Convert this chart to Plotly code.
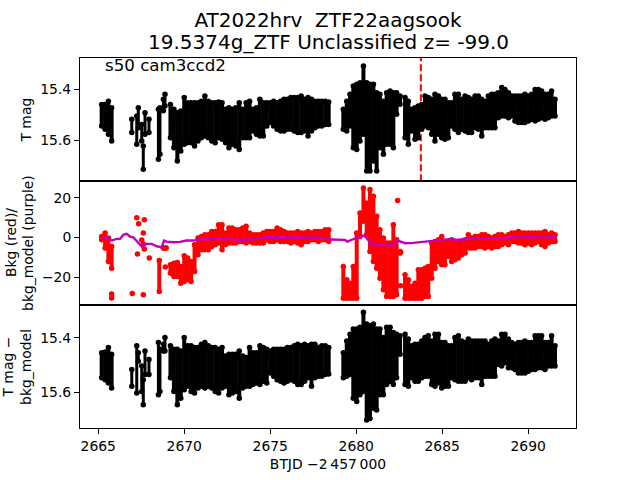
import plotly.graph_objects as go
from plotly.subplots import make_subplots

# Valores (envolvente superior/inferior de cada columna de puntos)
t_inicio = [2665.20, 2665.40, 2665.59, 2665.78]
t_tramo1 = [2669.2, 2669.4, 2669.6, 2669.8, 2670.0, 2670.2, 2670.4, 2670.6, 2670.8, 2671.0,
            2671.2, 2671.4, 2671.6, 2671.8, 2672.0, 2672.2, 2672.4, 2672.6, 2672.8, 2673.0,
            2673.2, 2673.4, 2673.6, 2673.8, 2674.0, 2674.2, 2674.4, 2674.6, 2674.8, 2675.0,
            2675.2, 2675.4, 2675.6, 2675.8, 2676.0, 2676.2, 2676.4, 2676.6, 2676.8, 2677.0,
            2677.2, 2677.4, 2677.6, 2677.8, 2678.0, 2678.2, 2678.4]
t_tramo2 = [2679.25, 2679.45, 2679.64, 2679.83, 2680.03, 2680.22, 2680.42, 2680.61, 2680.80, 2681.00,
            2681.19, 2681.38, 2681.58, 2681.77, 2681.97, 2682.16, 2682.35, 2682.55, 2682.84, 2683.03,
            2683.22, 2683.42, 2683.61, 2683.81, 2684.00, 2684.19, 2684.39, 2684.58, 2684.78, 2684.97,
            2685.16, 2685.36, 2685.55, 2685.74, 2685.94, 2686.13, 2686.33, 2686.52, 2686.71, 2686.91,
            2687.10, 2687.30, 2687.49, 2687.68, 2687.88, 2688.07, 2688.26, 2688.46, 2688.65, 2688.85,
            2689.04, 2689.23, 2689.43, 2689.62, 2689.81, 2690.01, 2690.20, 2690.40, 2690.59, 2690.78,
            2690.98, 2691.17, 2691.36, 2691.56]
t_sueltos = [2666.95, 2667.24, 2667.33, 2667.53, 2667.62, 2667.72, 2667.95, 2668.50, 2668.59, 2668.79, 2668.88]

# Panel superior: T mag
mag_sup_ini = [15.460, 15.460, 15.447, 15.473]
mag_inf_ini = [15.544, 15.557, 15.577, 15.603]
mag_sup_1 = [15.460, 15.479, 15.492, 15.486, 15.433, 15.453, 15.453, 15.453, 15.453, 15.447,
             15.427, 15.447, 15.453, 15.453, 15.450, 15.453, 15.479, 15.473, 15.479, 15.473,
             15.453, 15.479, 15.453, 15.447, 15.479, 15.473, 15.440, 15.453, 15.453, 15.453,
             15.447, 15.453, 15.447, 15.440, 15.440, 15.433, 15.433, 15.433, 15.427, 15.440,
             15.433, 15.440, 15.447, 15.447, 15.447, 15.447, 15.450]
mag_inf_1 = [15.590, 15.629, 15.681, 15.642, 15.616, 15.610, 15.610, 15.623, 15.603, 15.590,
             15.583, 15.590, 15.603, 15.610, 15.590, 15.596, 15.610, 15.629, 15.616, 15.623,
             15.636, 15.590, 15.590, 15.590, 15.564, 15.577, 15.583, 15.583, 15.544, 15.531,
             15.544, 15.557, 15.564, 15.564, 15.557, 15.557, 15.564, 15.570, 15.570, 15.564,
             15.583, 15.564, 15.551, 15.544, 15.544, 15.538, 15.538]
mag_sup_2 = [15.479, 15.447, 15.420, 15.388, 15.381, 15.375, 15.309, 15.375, 15.381, 15.381,
             15.414, 15.420, 15.447, 15.414, 15.407, 15.414, 15.414, 15.427, 15.433, 15.447,
             15.479, 15.473, 15.466, 15.460, 15.427, 15.433, 15.440, 15.420, 15.427, 15.440,
             15.440, 15.453, 15.453, 15.420, 15.420, 15.440, 15.427, 15.433, 15.440, 15.427,
             15.427, 15.440, 15.447, 15.427, 15.420, 15.420, 15.414, 15.394, 15.401, 15.414,
             15.427, 15.427, 15.427, 15.427, 15.420, 15.427, 15.420, 15.401, 15.401, 15.407,
             15.420, 15.420, 15.407, 15.440]
mag_inf_2 = [15.557, 15.564, 15.544, 15.629, 15.636, 15.603, 15.577, 15.721, 15.721, 15.681,
             15.721, 15.629, 15.655, 15.616, 15.616, 15.629, 15.498, 15.459, 15.590, 15.616,
             15.564, 15.596, 15.590, 15.557, 15.544, 15.551, 15.577, 15.603, 15.577, 15.590,
             15.596, 15.590, 15.544, 15.557, 15.570, 15.557, 15.564, 15.570, 15.570, 15.551,
             15.557, 15.583, 15.551, 15.551, 15.551, 15.551, 15.512, 15.505, 15.505, 15.512,
             15.505, 15.525, 15.531, 15.531, 15.531, 15.525, 15.518, 15.525, 15.518, 15.512,
             15.518, 15.512, 15.505, 15.505]
mag_sup_sueltos = [15.518, 15.505, 15.473, 15.538, 15.623, 15.492, 15.518, 15.479, 15.473, 15.440, 15.420]
mag_inf_sueltos = [15.570, 15.616, 15.551, 15.603, 15.714, 15.577, 15.570, 15.675, 15.655, 15.485, 15.466]

# Panel central: Bkg y bkg_model
bkg_alto_ini = [0.58, 2.27, -0.26, -4.48]
bkg_bajo_ini = [-1.10, -5.32, -12.07, -15.45]
bkg_alto_1 = [-13.77, -12.92, -12.58, -14.61, -9.21, -10.39, -12.08, -3.64, -0.26, 0.58,
              1.43, 1.43, 3.11, 3.11, 6.49, 6.49, 2.27, 4.80, 4.80, 3.96,
              3.96, 4.80, 5.65, 2.27, 1.43, 1.43, 1.43, 2.27, 3.11, 3.11,
              3.11, 4.80, 3.96, 3.11, 2.27, 2.27, 2.27, 3.11, 2.27, 2.27,
              3.11, 2.27, 3.11, 3.11, 3.11, 3.96, 3.96]
bkg_bajo_1 = [-17.98, -19.67, -19.67, -23.04, -22.20, -21.35, -22.20, -17.13, -8.69, -6.16,
              -6.16, -6.16, -4.47, -3.63, -2.79, -6.16, -3.63, -2.79, -2.79, -2.79,
              -1.94, -1.94, -2.79, -1.94, -2.79, -2.79, -2.79, -2.79, -1.10, -1.94,
              -1.94, -1.10, -1.94, -1.94, -1.94, -2.79, -1.94, -2.79, -3.63, -1.94,
              -1.94, -1.10, -1.10, -1.94, -1.10, -1.10, -1.94]
bkg_alto_2 = [-14.61, -21.36, -23.05, -14.61, 2.27, 12.40, 25.06, 17.46, 24.21, 20.84,
              10.71, 3.96, -0.26, -2.79, -2.79, 6.49, -1.11, -7.01, -18.83, -21.36,
              -24.74, -23.05, -16.30, -16.30, -15.45, -14.61, -2.79, -1.95, -1.11, 0.58,
              -1.95, -1.95, -1.11, -1.95, -1.95, -1.95, -1.11, 1.43, -0.26, 0.58,
              0.58, 1.43, 1.43, 0.58, -0.26, 0.58, 1.43, 1.43, 0.58, 1.43,
              2.27, 2.27, 3.11, 2.27, 2.27, 2.27, 2.27, 2.27, 2.27, 2.27,
              3.11, 1.43, 2.27, 1.43]
bkg_bajo_2 = [-30.64, -30.64, -30.64, -30.64, -30.64, 0.59, 8.19, 1.43, -7.00, -12.07,
              -15.45, -20.51, -26.42, -29.79, -29.79, -29.79, -28.95, -7.85, -30.64, -30.64,
              -30.64, -30.64, -30.64, -30.64, -29.79, -29.79, -20.51, -15.45, -12.07, -13.76,
              -13.76, -9.54, -12.07, -11.23, -10.38, -8.69, -7.85, -5.32, -5.32, -5.32,
              -4.47, -4.47, -5.32, -4.47, -5.32, -4.47, -4.47, -3.63, -2.79, -3.63,
              -1.94, -1.94, -2.79, -2.79, -3.63, -2.79, -3.63, -2.79, -1.94, -3.63,
              -4.47, -2.79, -1.94, -1.94]
t_bkg_c = [2668.55, 2668.79, 2668.94]
bkg_alto_c = [-11.57, -5.33, -5.33]
bkg_bajo_c = [-27.26, -5.33, -5.33]
t_bkg_sueltos = [2666.98, 2667.62, 2665.78, 2665.78, 2667.24, 2667.68, 2667.35, 2667.62, 2667.53,
                 2667.62, 2667.68, 2667.28, 2667.97, 2668.90, 2682.41, 2682.58, 2682.58]
bkg_sueltos = [-28.2, -28.87, -28.53, -30.56, 9.95, 8.94, 6.92, 2.36, -1.19,
               -3.21, -5.74, -8.28, -10.3, -14.86, 18.73, -24.3, -7.43]
t_modelo = [2665.20, 2665.49, 2665.78, 2666.07, 2666.27, 2666.46, 2666.65, 2666.85, 2667.04, 2667.24,
            2667.53, 2667.82, 2668.11, 2668.40, 2668.69, 2668.83, 2668.98, 2669.37, 2669.76, 2670.14,
            2670.53, 2670.92, 2671.69, 2672.47, 2673.24, 2674.02, 2674.79, 2675.57, 2676.34, 2677.12,
            2677.90, 2678.48, 2679.35, 2679.48, 2679.83, 2680.12, 2680.38, 2680.57, 2680.80, 2681.09,
            2681.58, 2682.16, 2682.41, 2682.84, 2683.32, 2683.71, 2684.29, 2685.07, 2685.55, 2685.84,
            2686.23, 2687.00, 2687.78, 2688.55, 2689.33, 2690.10, 2690.88, 2691.61]
bkg_modelo = [-0.17, -0.17, -1.52, -0.68, -0.68, 1.35, 1.85, 0.50, 0.16, -1.86,
              -4.56, -3.21, -3.21, -4.39, -4.90, -1.52, -2.03, -2.37, -2.20, -1.52,
              -1.52, -0.85, -0.68, -0.68, -1.19, -0.85, 0.16, 0.16, 0.16, -0.17,
              0.00, -1.02, -1.19, -2.03, -1.02, 0.16, 1.01, 0.16, -2.37, -4.06,
              -3.55, -4.06, -1.52, -2.87, -2.71, -2.37, -1.69, -1.19, -0.68, -1.19,
              -0.85, -0.68, -0.68, -0.17, 0.33, 0.16, 0.33, 0.00]

# Panel inferior: T mag - bkg_model
res_sup_ini = [15.454, 15.451, 15.435, 15.460]
res_inf_ini = [15.546, 15.553, 15.565, 15.583]
res_sup_1 = [15.429, 15.441, 15.441, 15.448, 15.398, 15.429, 15.429, 15.435, 15.435, 15.423,
             15.417, 15.429, 15.435, 15.435, 15.441, 15.435, 15.466, 15.460, 15.460, 15.460,
             15.448, 15.466, 15.472, 15.435, 15.454, 15.454, 15.429, 15.435, 15.441, 15.448,
             15.441, 15.441, 15.441, 15.441, 15.435, 15.435, 15.429, 15.423, 15.429, 15.423,
             15.429, 15.423, 15.423, 15.435, 15.429, 15.429, 15.435]
res_inf_1 = [15.546, 15.596, 15.645, 15.621, 15.590, 15.577, 15.596, 15.602, 15.583, 15.577,
             15.583, 15.577, 15.583, 15.596, 15.602, 15.583, 15.577, 15.608, 15.602, 15.596,
             15.621, 15.583, 15.577, 15.577, 15.571, 15.565, 15.571, 15.559, 15.565, 15.528,
             15.540, 15.553, 15.559, 15.565, 15.559, 15.553, 15.559, 15.571, 15.571, 15.559,
             15.546, 15.577, 15.546, 15.540, 15.540, 15.534, 15.532]
res_sup_2 = [15.454, 15.411, 15.386, 15.367, 15.367, 15.361, 15.306, 15.349, 15.355, 15.349,
             15.367, 15.367, 15.398, 15.361, 15.361, 15.380, 15.386, 15.392, 15.386, 15.404,
             15.429, 15.423, 15.423, 15.411, 15.398, 15.392, 15.411, 15.386, 15.386, 15.417,
             15.417, 15.429, 15.429, 15.398, 15.392, 15.411, 15.417, 15.404, 15.411, 15.411,
             15.411, 15.411, 15.411, 15.423, 15.411, 15.404, 15.411, 15.386, 15.386, 15.404,
             15.417, 15.423, 15.417, 15.417, 15.411, 15.417, 15.417, 15.392, 15.392, 15.392,
             15.417, 15.417, 15.392, 15.429]
res_inf_2 = [15.546, 15.540, 15.534, 15.621, 15.633, 15.608, 15.596, 15.701, 15.695, 15.658,
             15.664, 15.608, 15.608, 15.571, 15.559, 15.571, 15.546, 15.460, 15.571, 15.577,
             15.546, 15.559, 15.559, 15.546, 15.540, 15.540, 15.571, 15.577, 15.565, 15.583,
             15.577, 15.577, 15.546, 15.553, 15.559, 15.559, 15.559, 15.546, 15.553, 15.546,
             15.546, 15.571, 15.540, 15.540, 15.540, 15.540, 15.497, 15.503, 15.491, 15.509,
             15.509, 15.516, 15.528, 15.528, 15.528, 15.522, 15.516, 15.516, 15.509, 15.509,
             15.516, 15.503, 15.503, 15.503]
res_sup_sueltos = [15.516, 15.429, 15.454, 15.503, 15.553, 15.448, 15.479, 15.417, 15.441, 15.423, 15.398]
res_inf_sueltos = [15.577, 15.602, 15.485, 15.596, 15.645, 15.534, 15.534, 15.608, 15.596, 15.448, 15.448]

t_linea = 2683.76


def agregar_columnas(fig, fila, t, alto, bajo, color, grosor):
    # Cada columna va de un extremo al otro con su barra de error, con un punto en cada extremo
    fig.add_trace(go.Scatter(
        x=t, y=alto, mode="markers",
        marker=dict(color=color, size=5.5),
        error_y=dict(type="data", symmetric=False, array=[b - a for a, b in zip(alto, bajo)],
                     arrayminus=[0] * len(t), color=color, thickness=grosor, width=0),
    ), row=fila, col=1)
    fig.add_trace(go.Scatter(x=t, y=bajo, mode="markers", marker=dict(color=color, size=5.5)), row=fila, col=1)


fig = make_subplots(rows=3, cols=1, shared_xaxes=True, vertical_spacing=0)

fig.add_shape(type="line", x0=t_linea, x1=t_linea, y0=0, y1=1, xref="x", yref="y domain", layer="below",
              line=dict(color="red", width=2, dash="7px,3px"))

agregar_columnas(fig, 1, t_inicio, mag_sup_ini, mag_inf_ini, "black", 4)
agregar_columnas(fig, 1, t_sueltos, mag_sup_sueltos, mag_inf_sueltos, "black", 3)
agregar_columnas(fig, 1, t_tramo1, mag_sup_1, mag_inf_1, "black", 4)
agregar_columnas(fig, 1, t_tramo2, mag_sup_2, mag_inf_2, "black", 4)

agregar_columnas(fig, 2, t_inicio, bkg_alto_ini, bkg_bajo_ini, "red", 4)
agregar_columnas(fig, 2, t_bkg_c, bkg_alto_c, bkg_bajo_c, "red", 4)
agregar_columnas(fig, 2, t_tramo1, bkg_alto_1, bkg_bajo_1, "red", 4)
agregar_columnas(fig, 2, t_tramo2, bkg_alto_2, bkg_bajo_2, "red", 4)
fig.add_trace(go.Scatter(x=t_bkg_sueltos, y=bkg_sueltos, mode="markers",
                         marker=dict(color="red", size=5.5)), row=2, col=1)
fig.add_trace(go.Scatter(x=t_modelo, y=bkg_modelo, mode="lines",
                         line=dict(color="#bf00bf", width=2.4)), row=2, col=1)

agregar_columnas(fig, 3, t_inicio, res_sup_ini, res_inf_ini, "black", 4)
agregar_columnas(fig, 3, t_sueltos, res_sup_sueltos, res_inf_sueltos, "black", 3)
agregar_columnas(fig, 3, t_tramo1, res_sup_1, res_inf_1, "black", 4)
agregar_columnas(fig, 3, t_tramo2, res_sup_2, res_inf_2, "black", 4)

fuente = "DejaVu Sans"
ejes = dict(showline=True, mirror=True, linecolor="black", linewidth=1, showgrid=False, zeroline=False,
            tickfont=dict(family=fuente, size=13.9, color="black"), tickcolor="black", ticklen=5, tickwidth=1)

fig.update_xaxes(range=[2663.94, 2692.78], **ejes)
fig.update_xaxes(ticks="", showticklabels=False, row=1, col=1)
fig.update_xaxes(ticks="", showticklabels=False, row=2, col=1)
fig.update_xaxes(ticks="outside", tickvals=[2665, 2670, 2675, 2680, 2685, 2690], showticklabels=True,
                 title=dict(text="BTJD \u22122\u2009457\u2009000", font=dict(family=fuente, size=13.9, color="black"),
                            standoff=6),
                 row=3, col=1)

titulo_y = dict(family=fuente, size=13.9, color="black")
fig.update_yaxes(ticks="outside", **ejes)
fig.update_yaxes(range=[15.761, 15.278], tickvals=[15.4, 15.6], tickformat=".1f",
                 title=dict(text="T mag", font=titulo_y, standoff=5), row=1, col=1)
fig.update_yaxes(range=[-33.9, 28.4], tickvals=[-20, 0, 20], tickformat="d", row=2, col=1)
fig.update_yaxes(range=[15.73, 15.278], tickvals=[15.4, 15.6], tickformat=".1f", row=3, col=1)

# Titulos de dos lineas: el standoff no los mueve, van como anotaciones, una por linea
for texto, x, y in [("Bkg (red)/", -0.139, 0.5), ("bkg_model (purple)", -0.105, 0.5),
                    ("T mag \u2212", -0.146, 0.165), ("bkg_model", -0.109, 0.165)]:
    fig.add_annotation(text=texto, xref="paper", yref="paper", x=x, y=y, textangle=-90,
                       xanchor="center", yanchor="middle", showarrow=False, font=titulo_y)

fig.add_annotation(text="s50 cam3ccd2", xref="paper", yref="paper", x=0.046, y=0.979, xanchor="left", yanchor="middle",
                   showarrow=False, font=dict(family=fuente, size=16.67, color="black"))
# Segunda linea del titulo: plotly separa demasiado las lineas dentro de un solo titulo
fig.add_annotation(text="19.5374g_ZTF Unclassified z= -99.0", xref="paper", yref="paper", x=0.5, y=1.043,
                   xanchor="center", yanchor="middle", showarrow=False,
                   font=dict(family=fuente, size=20, color="black"))

fig.update_layout(
    width=640, height=480,
    margin=dict(l=80, r=64, t=58, b=52, autoexpand=False),
    paper_bgcolor="white", plot_bgcolor="white",
    showlegend=False,
    title=dict(text="AT2022hrv  ZTF22aagsook",
               x=0.5125, xanchor="center", y=0.9588, yanchor="middle",
               font=dict(family=fuente, size=20, color="black")),
)

# Sin el margen del body, para que los titulos de la izquierda no queden cortados
fig.write_html("out.html", config={"displayModeBar": False}, post_script="document.body.style.margin = '0';")
